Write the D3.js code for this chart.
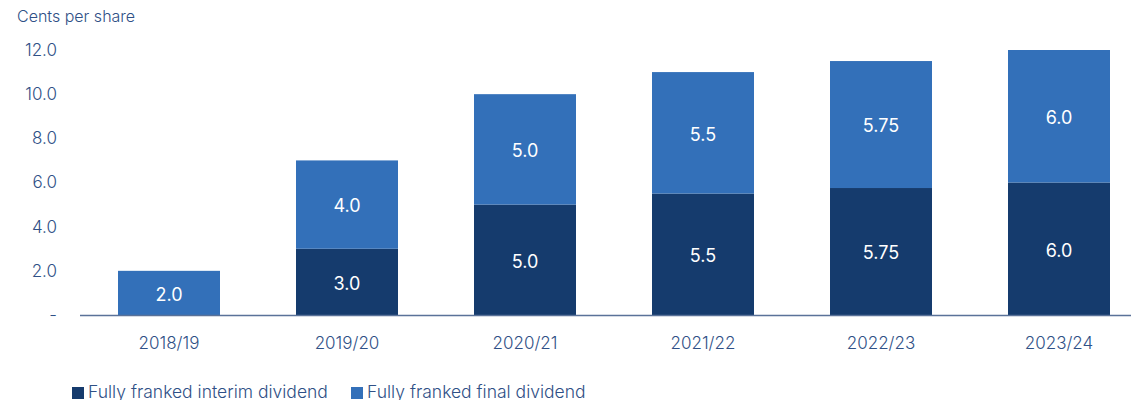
<!DOCTYPE html>
<html lang="en">
<head>
<meta charset="UTF-8">
<style>
body { margin: 0; background: #fff; font-family: Inter, "Open Sans", sans-serif; }
.tick-label { fill: #2f5086; font-size: 17px; font-weight: 300; }
.bar-label { fill: #fff; font-size: 18px; text-anchor: middle; dominant-baseline: middle; }
.legend-text { fill: #2f5086; font-size: 17.5px; font-weight: 300; }
</style>
<title>Dividends</title>
</head>
<body>
<div id="wrapper"></div>
<script src="https://cdnjs.cloudflare.com/ajax/libs/d3/7.8.5/d3.min.js"></script>
<script>
// DATA
const years = ["2018/19", "2019/20", "2020/21", "2021/22", "2022/23", "2023/24"]
const interim = [0, 3.0, 5.0, 5.5, 5.75, 6.0]
const finalDiv = [2.0, 4.0, 5.0, 5.5, 5.75, 6.0]
const interimLabels = ["", "3.0", "5.0", "5.5", "5.75", "6.0"]
const finalLabels = ["2.0", "4.0", "5.0", "5.5", "5.75", "6.0"]
const yTicks = [0, 2, 4, 6, 8, 10, 12]
const yTickLabels = ["-", "2.0", "4.0", "6.0", "8.0", "10.0", "12.0"]
const seriesNames = ["Fully franked interim dividend", "Fully franked final dividend"]

const width = 1138, height = 400
const colors = ["#153b6d", "#3370b9"]

const svg = d3.select("#wrapper").append("svg")
  .attr("width", width).attr("height", height)

const x = d3.scaleBand()
  .domain(years)
  .range([80, 1148])
  .paddingInner(0.427)
  .paddingOuter(0.2135)

const y = d3.scaleLinear()
  .domain([0, 12])
  .range([315, 50])

// y ticks
svg.append("g").selectAll("text")
  .data(yTicks)
  .join("text")
    .attr("class", "tick-label")
    .attr("x", 57)
    .attr("y", d => y(d))
    .attr("dy", "0.35em")
    .attr("text-anchor", "end")
    .text((d, i) => yTickLabels[i])

svg.append("text")
  .attr("class", "tick-label")
  .attr("x", 17)
  .attr("y", 22)
  .style("font-size", "16px")
  .text("Cents per share")

const rows = years.map((yr, i) => ({ year: yr, interim: interim[i], final: finalDiv[i], i }))

// interim bars
svg.append("g").selectAll("rect")
  .data(rows.filter(d => d.interim > 0))
  .join("rect")
    .attr("x", d => x(d.year))
    .attr("width", x.bandwidth())
    .attr("y", d => y(d.interim))
    .attr("height", d => y(0) - y(d.interim))
    .attr("fill", colors[0])

// final bars
svg.append("g").selectAll("rect")
  .data(rows)
  .join("rect")
    .attr("x", d => x(d.year))
    .attr("width", x.bandwidth())
    .attr("y", d => y(d.interim + d.final))
    .attr("height", d => y(d.interim) - y(d.interim + d.final))
    .attr("fill", colors[1])

// labels
svg.append("g").selectAll("text")
  .data(rows.filter(d => d.interim > 0))
  .join("text")
    .attr("class", "bar-label")
    .attr("x", d => x(d.year) + x.bandwidth() / 2)
    .attr("y", d => y(d.interim / 2) + 3)
    .text(d => interimLabels[d.i])

svg.append("g").selectAll("text")
  .data(rows)
  .join("text")
    .attr("class", "bar-label")
    .attr("x", d => x(d.year) + x.bandwidth() / 2)
    .attr("y", d => y(d.interim + d.final / 2) + 3)
    .text(d => finalLabels[d.i])

// x axis line
svg.append("line")
  .attr("x1", 80).attr("x2", 1131)
  .attr("y1", y(0) + 0.5).attr("y2", y(0) + 0.5)
  .attr("stroke", "#5a7299")
  .attr("stroke-width", 1.5)

svg.append("g").selectAll("text")
  .data(years)
  .join("text")
    .attr("class", "tick-label")
    .attr("x", d => x(d) + x.bandwidth() / 2)
    .attr("y", 349)
    .attr("text-anchor", "middle")
    .text(d => d)

// legend
const legendX = [72, 351]
const legend = svg.append("g").selectAll("g")
  .data(seriesNames)
  .join("g")
    .attr("transform", (d, i) => `translate(${legendX[i]},387)`)
legend.append("rect")
  .attr("width", 12).attr("height", 12)
  .attr("fill", (d, i) => colors[i])
legend.append("text")
  .attr("class", "legend-text")
  .attr("x", 16)
  .attr("y", 11)
  .text(d => d)
</script>
</body>
</html>
